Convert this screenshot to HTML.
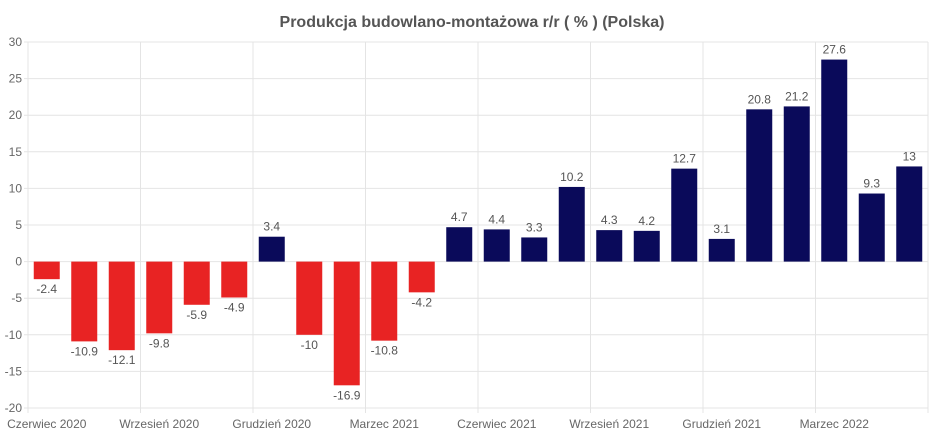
<!DOCTYPE html>
<html><head><meta charset="utf-8"><style>body{margin:0;background:#fff}svg{display:block}</style></head><body>
<svg width="945" height="430" xmlns="http://www.w3.org/2000/svg" font-family="Liberation Sans, Arial, sans-serif">
<text x="472" y="27" text-anchor="middle" font-size="16" font-weight="bold" fill="#555">Produkcja budowlano-montażowa r/r ( % ) (Polska)</text>
<g id="g"></g>
</svg>
<script>
const g=document.getElementById('g');
const d=[-2.4,-10.9,-12.1,-9.8,-5.9,-4.9,3.4,-10,-16.9,-10.8,-4.2,4.7,4.4,3.3,10.2,4.3,4.2,12.7,3.1,20.8,21.2,27.6,9.3,13];
const L=28,R=928,T=42,B=408,sl=(R-L)/24,py=(B-T)/50;
const y=v=>T+(30-v)*py;
let s='';
for(let v=-20;v<=30;v+=5){s+=`<line x1="${L-4}" x2="${R}" y1="${y(v)}" y2="${y(v)}" stroke="#e4e4e4"/><text x="${L-6}" y="${y(v)+4}" text-anchor="end" font-size="12" fill="#666">${v}</text>`;}
for(let k=0;k<=8;k++){const x=L+k*3*sl;s+=`<line x1="${x}" x2="${x}" y1="${T}" y2="${B+5}" stroke="#e4e4e4"/>`;}
const labs=['Czerwiec 2020','Wrzesień 2020','Grudzień 2020','Marzec 2021','Czerwiec 2021','Wrzesień 2021','Grudzień 2021','Marzec 2022'];
labs.forEach((t,k)=>{const x=L+(k*3+0.5)*sl;s+=`<text x="${x}" y="428" text-anchor="middle" font-size="12" fill="#666">${t}</text>`;});
d.forEach((v,i)=>{const cx=L+(i+0.5)*sl,w=26,y0=y(0),y1=y(v);
s+=`<rect x="${cx-w/2}" y="${Math.min(y0,y1)}" width="${w}" height="${Math.abs(y1-y0)}" fill="${v<0?'#e82323':'#0a0a5a'}"/>`;
s+=`<text x="${cx}" y="${v<0?y1+14:y1-6}" text-anchor="middle" font-size="12" fill="#555">${v}</text>`;});
g.innerHTML=s;
</script>
</body></html>
